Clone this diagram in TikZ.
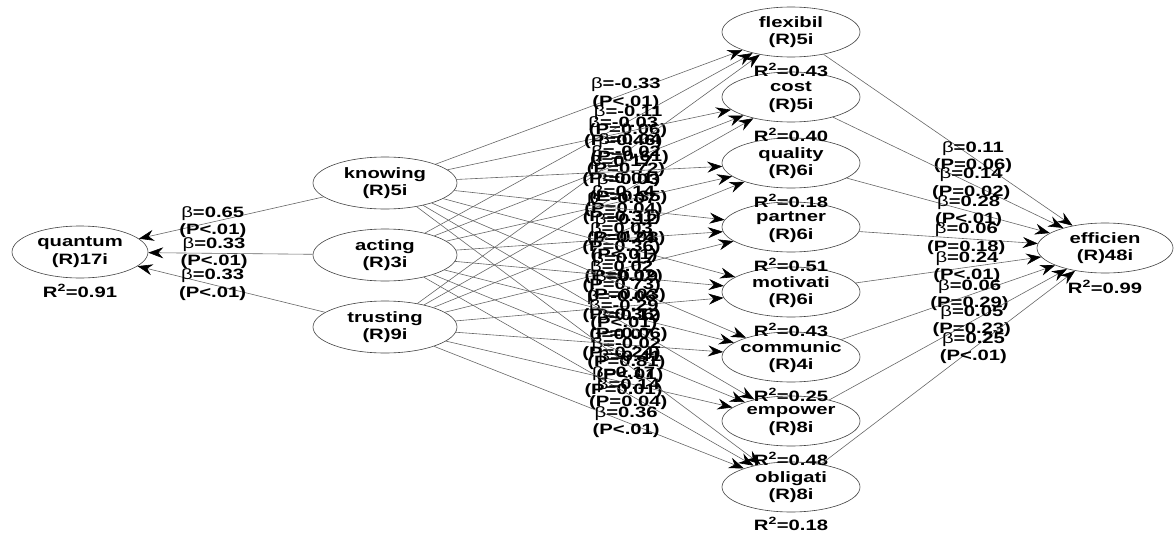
\documentclass[tikz,border=0pt]{standalone}
\usepackage{fontspec}
\newfontfamily\lsf{Liberation Sans}[FakeStretch=1.35]
\usetikzlibrary{shapes.geometric,arrows.meta}
\newcommand{\bt}{{\mdseries β}}
\begin{document}
\begin{tikzpicture}[x=1pt,y=-1pt,
  font=\lsf\bfseries\fontsize{15}{17.5}\selectfont,
  lv/.style={ellipse,draw=black!75,line width=0.6pt,minimum width=138pt,minimum height=50pt,inner xsep=-4pt,inner ysep=-3pt,align=center},
  arr/.style={draw=black!60,line width=0.6pt,-{Stealth[length=15pt,width=11pt,inset=5pt,black]}},
  pl/.style={align=center,inner sep=0pt,pos=0.62},
  rsq/.style={inner sep=0pt}]
\useasboundingbox (0,0) rectangle (1174,535);
% latent variables
\node[lv,minimum width=136pt,minimum height=52pt] (q) at (80,252) {quantum\\(R)17i};
\node[lv,minimum width=144pt,minimum height=52pt] (k) at (385,183) {knowing\\(R)5i};
\node[lv,minimum width=144pt,minimum height=52pt] (a) at (385,255) {acting\\(R)3i};
\node[lv,minimum width=144pt,minimum height=52pt] (t) at (385,327) {trusting\\(R)9i};
\node[lv] (o1) at (791,32) {flexibil\\(R)5i};
\node[lv] (o2) at (791,97) {cost\\(R)5i};
\node[lv] (o3) at (791,163) {quality\\(R)6i};
\node[lv] (o4) at (791,227) {partner\\(R)6i};
\node[lv] (o5) at (791,292) {motivati\\(R)6i};
\node[lv] (o6) at (791,357) {communic\\(R)4i};
\node[lv] (o7) at (791,421) {empower\\(R)8i};
\node[lv] (o8) at (791,487) {obligati\\(R)8i};
\node[lv,minimum width=136pt] (e) at (1105,248) {efficien\\(R)48i};
% R squared
\node[rsq] (rq) at ([yshift=-39pt]q.center) {R\textsuperscript{2}=0.91};
\node[rsq] (r1) at ([yshift=-38pt]o1.center) {R\textsuperscript{2}=0.43};
\node[rsq] (r2) at ([yshift=-38pt]o2.center) {R\textsuperscript{2}=0.40};
\node[rsq] (r3) at ([yshift=-38pt]o3.center) {R\textsuperscript{2}=0.18};
\node[rsq] (r4) at ([yshift=-38pt]o4.center) {R\textsuperscript{2}=0.51};
\node[rsq] (r5) at ([yshift=-38pt]o5.center) {R\textsuperscript{2}=0.43};
\node[rsq] (r6) at ([yshift=-38pt]o6.center) {R\textsuperscript{2}=0.25};
\node[rsq] (r7) at ([yshift=-38pt]o7.center) {R\textsuperscript{2}=0.48};
\node[rsq] (r8) at ([yshift=-37pt]o8.center) {R\textsuperscript{2}=0.18};
\node[rsq] (re) at ([yshift=-39pt]e.center) {R\textsuperscript{2}=0.99};
% paths to quantum
\draw[arr] (k) -- node[pl,pos=0.6] (lk) {\bt=0.65\\(P<.01)} (q);
\draw[arr] (a) -- node[pl,pos=0.6] (la) {\bt=0.33\\(P<.01)} (q);
\draw[arr] (t) -- node[pl,pos=0.6] (lt) {\bt=0.33\\(P<.01)} (q);
% paths to outcomes
\draw[arr] (k) -- node[pl] (l11) {\bt=-0.33\\(P<.01)} (o1);
\draw[arr] (a) -- node[pl] (l21) {\bt=-0.11\\(P=0.06)} (o1);
\draw[arr] (t) -- node[pl] (l31) {\bt=0.04\\(P=0.61)} (o1);
\draw[arr] (k) -- node[pl] (l12) {\bt=-0.03\\(P=0.46)} (o2);
\draw[arr] (a) -- node[pl] (l22) {\bt=-0.02\\(P=0.72)} (o2);
\draw[arr] (t) -- node[pl] (l32) {\bt=0.03\\(P=0.35)} (o2);
\draw[arr] (k) -- node[pl] (l13) {\bt=0.17\\(P=0.01)} (o3);
\draw[arr] (a) -- node[pl] (l23) {\bt=0.14\\(P=0.04)} (o3);
\draw[arr] (t) -- node[pl] (l33) {\bt=0.12\\(P=0.08)} (o3);
\draw[arr] (k) -- node[pl] (l14) {\bt=-0.07\\(P=0.31)} (o4);
\draw[arr] (a) -- node[pl] (l24) {\bt=0.03\\(P=0.36)} (o4);
\draw[arr] (t) -- node[pl] (l34) {\bt=0.17\\(P=0.02)} (o4);
\draw[arr] (k) -- node[pl] (l15) {\bt=0.24\\(P<.01)} (o5);
\draw[arr] (a) -- node[pl] (l25) {\bt=0.02\\(P=0.73)} (o5);
\draw[arr] (t) -- node[pl] (l35) {\bt=-0.06\\(P=0.36)} (o5);
\draw[arr] (k) -- node[pl] (l16) {\bt=0.19\\(P=0.03)} (o6);
\draw[arr] (a) -- node[pl] (l26) {\bt=-0.29\\(P<.01)} (o6);
\draw[arr] (t) -- node[pl] (l36) {\bt=0.07\\(P=0.24)} (o6);
\draw[arr] (k) -- node[pl] (l17) {\bt=0.12\\(P=0.06)} (o7);
\draw[arr] (a) -- node[pl] (l27) {\bt=-0.02\\(P=0.81)} (o7);
\draw[arr] (t) -- node[pl] (l37) {\bt=0.17\\(P=0.01)} (o7);
\draw[arr] (k) -- node[pl] (l18) {\bt=0.41\\(P<.01)} (o8);
\draw[arr] (a) -- node[pl] (l28) {\bt=0.14\\(P=0.04)} (o8);
\draw[arr] (t) -- node[pl] (l38) {\bt=0.36\\(P<.01)} (o8);
% paths to efficien
\draw[arr] (o1) -- node[pl,pos=0.6] (le1) {\bt=0.11\\(P=0.06)} (e);
\draw[arr] (o2) -- node[pl,pos=0.6] (le2) {\bt=0.14\\(P=0.02)} (e);
\draw[arr] (o3) -- node[pl,pos=0.6] (le3) {\bt=0.28\\(P<.01)} (e);
\draw[arr] (o4) -- node[pl,pos=0.6] (le4) {\bt=0.06\\(P=0.18)} (e);
\draw[arr] (o5) -- node[pl,pos=0.6] (le5) {\bt=0.24\\(P<.01)} (e);
\draw[arr] (o6) -- node[pl,pos=0.6] (le6) {\bt=0.06\\(P=0.29)} (e);
\draw[arr] (o7) -- node[pl,pos=0.6] (le7) {\bt=0.05\\(P=0.23)} (e);
\draw[arr] (o8) -- node[pl,pos=0.6] (le8) {\bt=0.25\\(P<.01)} (e);
\end{tikzpicture}
\end{document}
